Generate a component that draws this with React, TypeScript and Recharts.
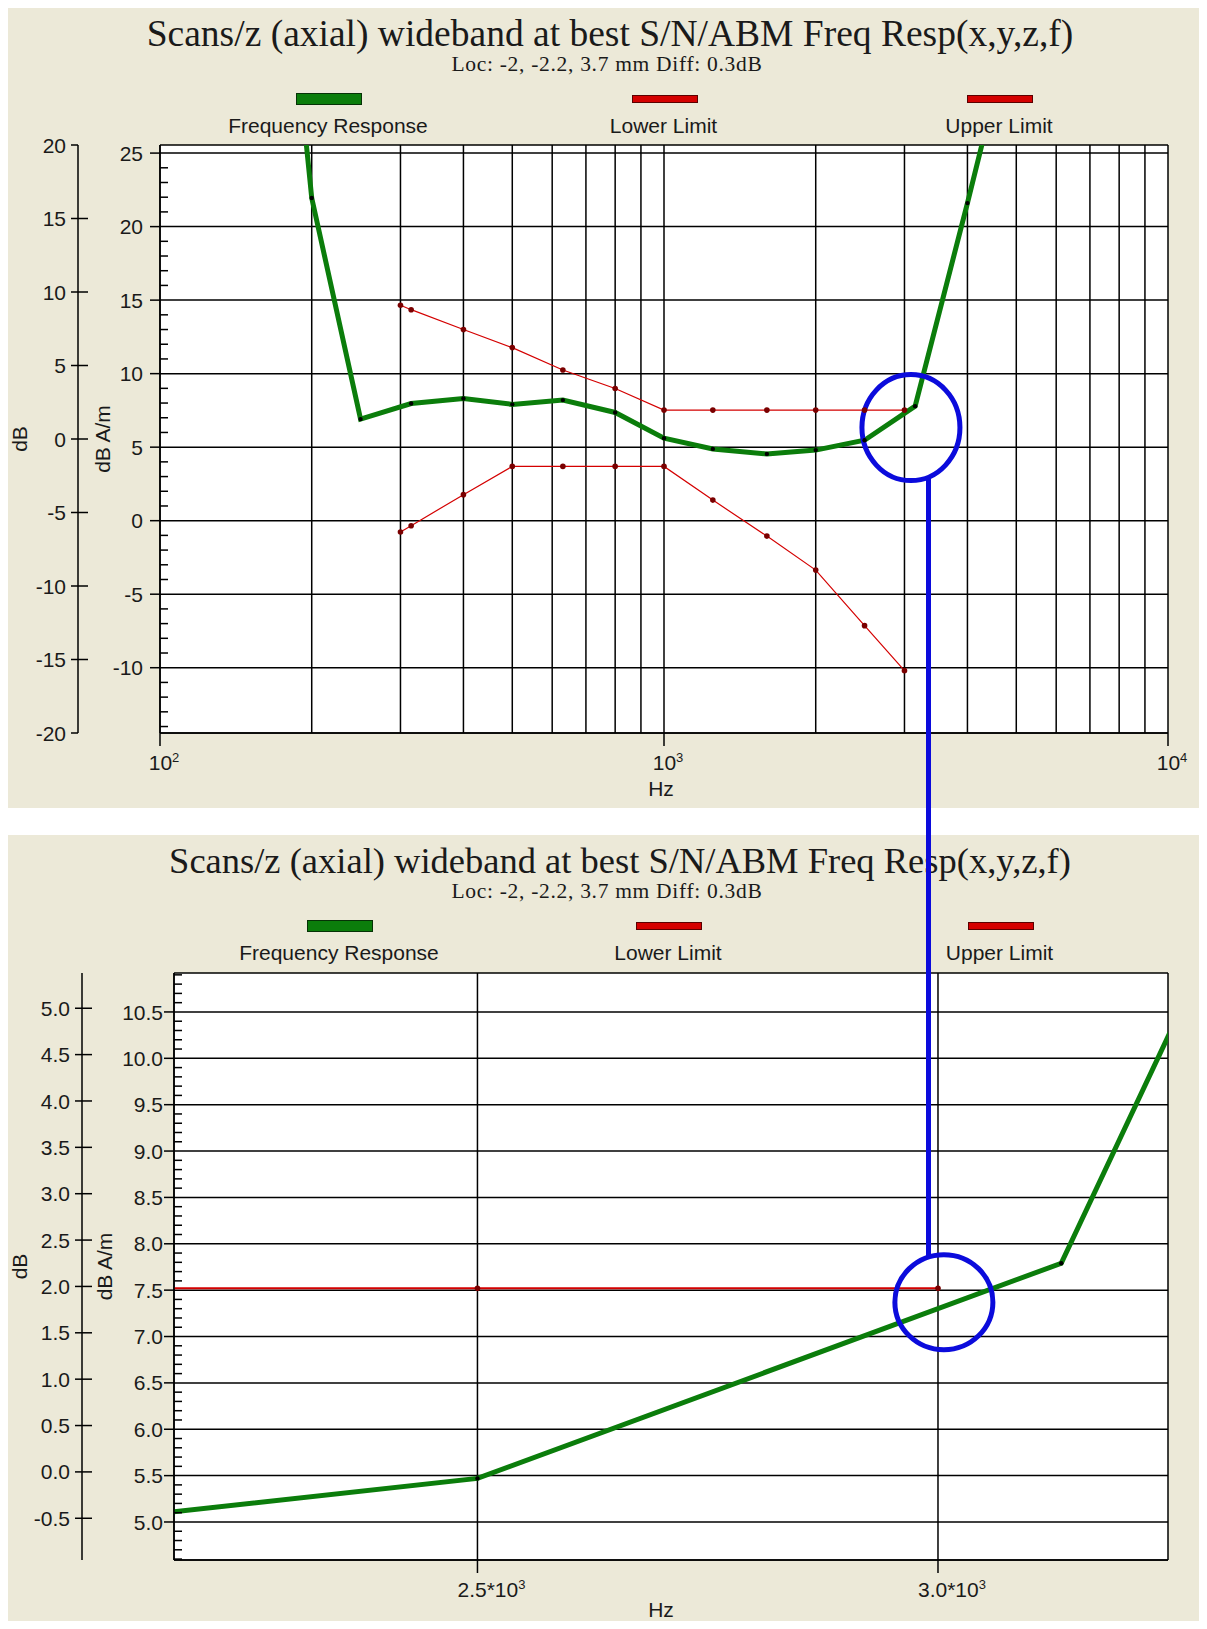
import React from 'react';
import {
  ComposedChart,
  Line,
  XAxis,
  YAxis,
  CartesianGrid,
  Legend,
  ReferenceDot
} from 'recharts';

const title = 'Scans/z (axial) wideband at best S/N/ABM Freq Resp(x,y,z,f)';
const subtitle = 'Loc: -2, -2.2, 3.7 mm Diff: 0.3dB';
const seriesNames = ['Frequency Response', 'Lower Limit', 'Upper Limit'];

// measured response, dB A/m, third-octave centres (Hz)
const responseFreqHz = [160, 200, 250, 315, 400, 500, 630, 800, 1000, 1250, 1600, 2000, 2500, 3150, 4000, 5000];
const responseDbAm = [55, 21.95, 6.91, 7.97, 8.31, 7.91, 8.2, 7.36, 5.61, 4.88, 4.54, 4.8, 5.47, 7.79, 21.6, 35];

// tolerance mask
const limitFreqHz = [300, 315, 400, 500, 630, 800, 1000, 1250, 1600, 2000, 2500, 3000];
const upperLimitDbAm = [14.65, 14.35, 13.0, 11.77, 10.25, 8.99, 7.52, 7.52, 7.52, 7.52, 7.52, 7.52];
const lowerLimitDbAm = [-0.77, -0.34, 1.77, 3.69, 3.69, 3.69, 3.69, 1.4, -1.05, -3.36, -7.14, -10.2];

// overview chart (full band)
const overviewFreqDomain = [100, 10000];
const overviewDbAmDomain = [-14.44, 25.55];
const overviewDbDomain = [-20, 20];
const overviewXTicks = [100, 1000, 10000];
const overviewXTickLabels = ['10^2', '10^3', '10^4'];
const overviewGridFreqs = [200, 300, 400, 500, 600, 700, 800, 900, 1000, 2000, 3000, 4000, 5000, 6000, 7000, 8000, 9000];
const overviewDbAmMajor = [-10, -5, 0, 5, 10, 15, 20, 25];
const overviewDbTicks = [-20, -15, -10, -5, 0, 5, 10, 15, 20];

// zoomed chart (around 3 kHz)
const zoomFreqDomain = [2217, 3286];
const zoomDbAmDomain = [4.59, 10.92];
const zoomDbDomain = [-0.95, 5.38];
const zoomXTicks = [2500, 3000];
const zoomXTickLabels = ['2.5*10^3', '3.0*10^3'];
const zoomGridFreqs = [2500, 3000];
const zoomDbAmMajor = [5.0, 5.5, 6.0, 6.5, 7.0, 7.5, 8.0, 8.5, 9.0, 9.5, 10.0, 10.5];
const zoomDbTicks = [-0.5, 0, 0.5, 1.0, 1.5, 2.0, 2.5, 3.0, 3.5, 4.0, 4.5, 5.0];

// hand-drawn highlight around the crossing point
const overviewMark = { f: 3090, v: 6.33 };
const zoomMark = { f: 3007, v: 7.37 };

const FONT = '"Liberation Sans", Arial, sans-serif';
const SERIF = '"Liberation Serif", "Times New Roman", serif';
const GREEN = '#0b7d0b';
const RED = '#d40000';
const DOT_RED = '#7a0000';
const BLUE = '#0b0bdc';
const PANEL_BG = '#ECE9D8';
const INK = '#1a1a1a';
const CHART_W = 1199;

const toRows = (xs: number[], ys: number[]) => xs.map((f, i) => ({ f, v: ys[i] }));

const stepTicks = (lo: number, hi: number, step: number) => {
  const out: number[] = [];
  for (let i = Math.ceil(lo / step - 1e-9); i * step <= hi + 1e-9; i++) {
    out.push(Math.round(i * step * 1000) / 1000);
  }
  return out;
};

const same = (a: number, b: number) => Math.abs(a - b) < 1e-6;

const AmTick = (props: any) => {
  const { x, y, payload, majors, decimals, gap } = props;
  const v = payload.value;
  if (!majors.some((m: number) => same(m, v))) {
    return <line x1={x} x2={x + 8} y1={y} y2={y} stroke="#000" strokeWidth={1.5} />;
  }
  return (
    <g>
      <line x1={x - 10} x2={x} y1={y} y2={y} stroke="#000" strokeWidth={1.5} />
      <text x={x - 10 - gap} y={y} dy="0.36em" textAnchor="end" fontFamily={FONT} fontSize={21} fill={INK}>
        {v.toFixed(decimals)}
      </text>
    </g>
  );
};

const DbTick = (props: any) => {
  const { x, y, payload, decimals, domain } = props;
  const v = payload.value;
  const atEnd = same(v, domain[0]) || same(v, domain[1]);
  return (
    <g>
      <line x1={x - 7} x2={atEnd ? x : x + 10} y1={y} y2={y} stroke="#000" strokeWidth={1.5} />
      <text x={x - 12} y={y} dy="0.36em" textAnchor="end" fontFamily={FONT} fontSize={21} fill={INK}>
        {v.toFixed(decimals)}
      </text>
    </g>
  );
};

const PowerTick = (props: any) => {
  const { x, y, payload, ticks, labels, dx } = props;
  const i = ticks.findIndex((t: number) => same(t, payload.value));
  const [base, exp] = (labels[i] ?? '').split('^');
  return (
    <g>
      <line x1={x} x2={x} y1={y} y2={y + 13} stroke="#000" strokeWidth={1.5} />
      <text x={x + dx} y={y + 37} textAnchor="middle" fontFamily={FONT} fontSize={21} fill={INK}>
        {base}
        <tspan dy={-8} fontSize={13}>{exp}</tspan>
      </text>
    </g>
  );
};

const LegendRow = (props: any) => {
  const { payload, centers } = props;
  return (
    <div style={{ position: 'relative', width: CHART_W, height: 56 }}>
      {seriesNames.map((name, i) => {
        const entry = (payload || []).find((p: any) => p.value === name);
        const thick = i === 0;
        const color = entry?.color ?? (thick ? GREEN : RED);
        return (
          <div key={name} style={{ position: 'absolute', left: centers[i] - 150, top: 0, width: 300, height: 56 }}>
            <div
              style={{
                position: 'absolute',
                left: 118,
                top: thick ? 5 : 7,
                width: 64,
                height: thick ? 10 : 6,
                background: color,
                border: `1px solid ${thick ? '#063206' : '#5a0000'}`
              }}
            />
            <div
              style={{
                position: 'absolute',
                left: 0,
                top: 26,
                width: 300,
                textAlign: 'center',
                fontFamily: FONT,
                fontSize: 21,
                lineHeight: '24px',
                color: INK
              }}
            >
              {name}
            </div>
          </div>
        );
      })}
    </div>
  );
};

interface PanelConfig {
  top: number;
  height: number;
  margin: { top: number; right: number; bottom: number; left: number };
  amWidth: number;
  dbWidth: number;
  xAxisHeight: number;
  freqDomain: number[];
  amDomain: number[];
  dbDomain: number[];
  amMajor: number[];
  amMinorStep: number;
  decimals: number;
  dbTicks: number[];
  xTicks: number[];
  xTickLabels: string[];
  xTickDx: number;
  gridFreqs: number[];
  legendCenters: number[];
  mark: { f: number; v: number };
  markRx: number;
  markRy: number;
  amLabelOffset: number;
  dbLabelOffset: number;
  amGap: number;
  hzOffset: number;
  hzDx: number;
  titleX: number;
  titleSize: number;
  limitWidth: number;
}

const overviewConfig: PanelConfig = {
  top: 0,
  height: 800,
  margin: { top: 137, right: 39, bottom: 7, left: 8 },
  amWidth: 82,
  dbWidth: 62,
  xAxisHeight: 68,
  freqDomain: overviewFreqDomain,
  amDomain: overviewDbAmDomain,
  dbDomain: overviewDbDomain,
  amMajor: overviewDbAmMajor,
  amMinorStep: 1,
  decimals: 0,
  dbTicks: overviewDbTicks,
  xTicks: overviewXTicks,
  xTickLabels: overviewXTickLabels,
  xTickDx: 4,
  gridFreqs: overviewGridFreqs,
  legendCenters: [320, 655.5, 991],
  mark: overviewMark,
  markRx: 49,
  markRy: 53,
  amLabelOffset: 25,
  dbLabelOffset: 4,
  amGap: 7,
  hzOffset: 5,
  hzDx: -3,
  titleX: 602,
  titleSize: 37.5,
  limitWidth: 1.2
};

const zoomConfig: PanelConfig = {
  top: 827,
  height: 794,
  margin: { top: 138, right: 39, bottom: 9, left: 9 },
  amWidth: 92,
  dbWidth: 65,
  xAxisHeight: 60,
  freqDomain: zoomFreqDomain,
  amDomain: zoomDbAmDomain,
  dbDomain: zoomDbDomain,
  amMajor: zoomDbAmMajor,
  amMinorStep: 0.1,
  decimals: 1,
  dbTicks: zoomDbTicks,
  xTicks: zoomXTicks,
  xTickLabels: zoomXTickLabels,
  xTickDx: 14,
  gridFreqs: zoomGridFreqs,
  legendCenters: [331, 660, 991.5],
  mark: zoomMark,
  markRx: 49,
  markRy: 47.5,
  amLabelOffset: 23,
  dbLabelOffset: 3,
  amGap: 1,
  hzOffset: 3,
  hzDx: -10,
  titleX: 612,
  titleSize: 36.5,
  limitWidth: 2
};

const responseRows = toRows(responseFreqHz, responseDbAm);
const upperRows = toRows(limitFreqHz, upperLimitDbAm);
const lowerRows = toRows(limitFreqHz, lowerLimitDbAm);

const axisTitleStyle = { textAnchor: 'middle', fontFamily: FONT, fontSize: 21, fill: INK } as any;

const FreqPanel = ({ cfg }: { cfg: PanelConfig }) => {
  const amTicks = stepTicks(cfg.amDomain[0], cfg.amDomain[1], cfg.amMinorStep);
  const redDot = { r: 2.8, fill: DOT_RED, stroke: 'none' };
  return (
    <div style={{ position: 'absolute', left: 0, top: cfg.top, width: CHART_W, height: cfg.height, background: PANEL_BG }}>
      <svg width={CHART_W} height={80} style={{ position: 'absolute', left: 0, top: 0 }}>
        <text x={cfg.titleX} y={38} textAnchor="middle" fontFamily={SERIF} fontSize={cfg.titleSize} fill={INK}>
          {title}
        </text>
        <text x={599} y={63} textAnchor="middle" fontFamily={SERIF} fontSize={21.5} letterSpacing={0.7} fill={INK}>
          {subtitle}
        </text>
      </svg>
      <div style={{ position: 'absolute', left: 0, top: 0 }}>
        <ComposedChart width={CHART_W} height={cfg.height} margin={cfg.margin}>
          <CartesianGrid
            xAxisId="f"
            yAxisId="am"
            fill="#fff"
            stroke="#000"
            strokeWidth={1.5}
            verticalValues={[...cfg.gridFreqs, ...cfg.freqDomain]}
            horizontalValues={[...cfg.amMajor, ...cfg.amDomain]}
          />
          <XAxis
            xAxisId="f"
            dataKey="f"
            type="number"
            scale="log"
            domain={cfg.freqDomain}
            allowDataOverflow
            ticks={cfg.xTicks}
            interval={0}
            height={cfg.xAxisHeight}
            tickSize={0}
            tickMargin={0}
            tickLine={false}
            axisLine={{ stroke: '#000', strokeWidth: 1.5 }}
            tick={(p: any) => <PowerTick {...p} ticks={cfg.xTicks} labels={cfg.xTickLabels} dx={cfg.xTickDx} />}
            label={{ value: 'Hz', position: 'insideBottom', offset: cfg.hzOffset, dx: cfg.hzDx, style: axisTitleStyle }}
          />
          <YAxis
            yAxisId="am"
            orientation="left"
            type="number"
            domain={cfg.amDomain}
            allowDataOverflow
            ticks={amTicks}
            interval={0}
            width={cfg.amWidth}
            tickSize={0}
            tickMargin={0}
            tickLine={false}
            axisLine={{ stroke: '#000', strokeWidth: 1.5 }}
            tick={(p: any) => <AmTick {...p} majors={cfg.amMajor} decimals={cfg.decimals} gap={cfg.amGap} />}
            label={{ value: 'dB A/m', angle: -90, position: 'insideLeft', offset: cfg.amLabelOffset, style: axisTitleStyle }}
          />
          <YAxis
            yAxisId="db"
            orientation="left"
            type="number"
            domain={cfg.dbDomain}
            allowDataOverflow
            ticks={cfg.dbTicks}
            interval={0}
            width={cfg.dbWidth}
            tickSize={0}
            tickMargin={0}
            tickLine={false}
            axisLine={{ stroke: '#000', strokeWidth: 1.5 }}
            tick={(p: any) => <DbTick {...p} decimals={cfg.decimals} domain={cfg.dbDomain} />}
            label={{ value: 'dB', angle: -90, position: 'insideLeft', offset: cfg.dbLabelOffset, style: axisTitleStyle }}
          />
          <Legend
            layout="horizontal"
            verticalAlign="middle"
            align="center"
            wrapperStyle={{ left: 0, top: 80, width: CHART_W, height: 56 }}
            content={(p: any) => <LegendRow {...p} centers={cfg.legendCenters} />}
          />
          <Line
            name="Lower Limit"
            data={lowerRows}
            dataKey="v"
            xAxisId="f"
            yAxisId="am"
            type="linear"
            stroke={RED}
            strokeWidth={cfg.limitWidth}
            dot={redDot}
            activeDot={false}
            isAnimationActive={false}
          />
          <Line
            name="Upper Limit"
            data={upperRows}
            dataKey="v"
            xAxisId="f"
            yAxisId="am"
            type="linear"
            stroke={RED}
            strokeWidth={cfg.limitWidth}
            dot={redDot}
            activeDot={false}
            isAnimationActive={false}
          />
          <Line
            name="Frequency Response"
            data={responseRows}
            dataKey="v"
            xAxisId="f"
            yAxisId="am"
            type="linear"
            stroke={GREEN}
            strokeWidth={5}
            dot={{ r: 2.2, fill: '#000', stroke: 'none' }}
            activeDot={false}
            isAnimationActive={false}
          />
          <ReferenceDot
            xAxisId="f"
            yAxisId="am"
            x={cfg.mark.f}
            y={cfg.mark.v}
            r={cfg.markRx}
            ifOverflow="visible"
            shape={(p: any) => (
              <ellipse cx={p.cx} cy={p.cy} rx={cfg.markRx} ry={cfg.markRy} fill="none" stroke={BLUE} strokeWidth={5} />
            )}
          />
        </ComposedChart>
      </div>
    </div>
  );
};

export default function App() {
  return (
    <div style={{ position: 'relative', width: CHART_W, height: 1621, marginBottom: -8, overflow: 'hidden', background: '#fff' }}>
      <FreqPanel cfg={overviewConfig} />
      <FreqPanel cfg={zoomConfig} />
      {/* connector between the two highlight circles */}
      <svg width={CHART_W} height={1621} style={{ position: 'absolute', left: 0, top: 0, pointerEvents: 'none' }}>
        <line x1={920.5} y1={469} x2={920.5} y2={1250} stroke={BLUE} strokeWidth={5} />
      </svg>
    </div>
  );
}
